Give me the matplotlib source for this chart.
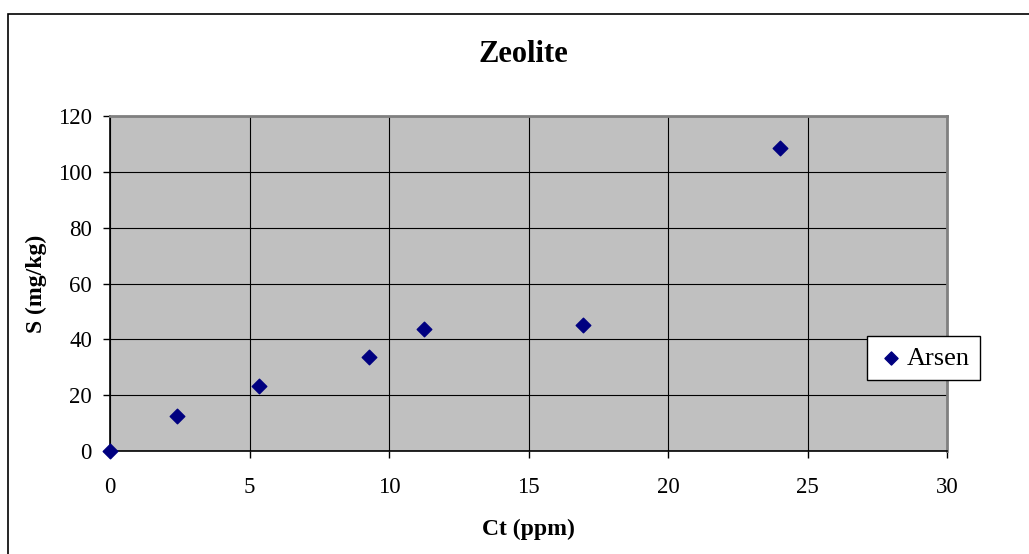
import matplotlib.pyplot as plt
from matplotlib.patches import Rectangle

# data
ct_ppm = [0, 2.4, 5.35, 9.3, 11.25, 16.95, 24.0]
s_mgkg = [0, 12.7, 23.4, 33.6, 43.6, 45.1, 108.5]
x_ticks = [0, 5, 10, 15, 20, 25, 30]
y_ticks = [0, 20, 40, 60, 80, 100, 120]

plt.rcParams['font.family'] = ['Liberation Serif', 'DejaVu Serif']

fig = plt.figure(figsize=(10.29, 5.54), dpi=100)

# outer chart border (right/bottom edges run off the image)
fig.patches.append(Rectangle((8 / 1029, -0.05), 1.2, 1 - 14 / 554 + 0.05,
                             transform=fig.transFigure, fill=False,
                             edgecolor='black', linewidth=1.2))

ax = fig.add_axes([110 / 1029, 1 - 451 / 554, 837 / 1029, 335 / 554])
ax.set_facecolor('#C0C0C0')

ax.scatter(ct_ppm, s_mgkg, marker='D', s=55, color='#000080',
           label='Arsen', zorder=3, clip_on=False)

ax.set_xlim(0, 30)
ax.set_ylim(0, 120)
ax.set_xticks(x_ticks)
ax.set_yticks(y_ticks)
ax.grid(True, color='black', linewidth=0.8)
ax.set_axisbelow(True)

ax.tick_params(axis='both', direction='out', length=5, width=1,
               labelsize=16.5, colors='black')
ax.tick_params(axis='x', pad=14)
ax.tick_params(axis='y', pad=8)

for side in ('left', 'bottom'):
    ax.spines[side].set_color('black')
    ax.spines[side].set_linewidth(1.2)
for side in ('top', 'right'):
    ax.spines[side].set_color('#808080')
    ax.spines[side].set_linewidth(2)

ax.set_xlabel('Ct (ppm)', fontsize=17, fontweight='bold', va='center')
ax.xaxis.set_label_coords(0.5, (451 - 529) / 335)
ax.set_ylabel('S (mg/kg)', fontsize=17, fontweight='bold', va='center')
ax.yaxis.set_label_coords((36 - 110) / 837, 0.5)

fig.text(523 / 1029, 1 - 54 / 554, 'Zeolite', ha='center', va='center',
         fontsize=22, fontweight='bold')

leg = ax.legend(loc='center left', bbox_to_anchor=(867 / 1029, 1 - 358 / 554),
                bbox_transform=fig.transFigure, borderaxespad=0,
                fontsize=19, frameon=True,
                fancybox=False, edgecolor='black', framealpha=1,
                handletextpad=0.1, borderpad=0.4, handlelength=1.0,
                markerscale=0.9)
leg.get_frame().set_linewidth(1)

fig.savefig('out.png', dpi=100)
